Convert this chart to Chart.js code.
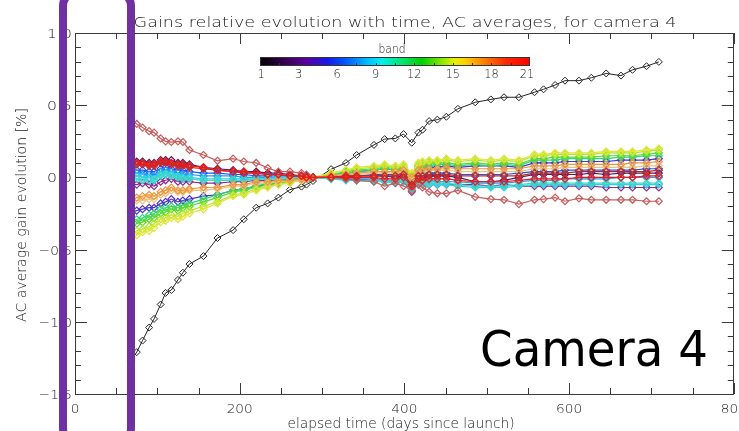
<!DOCTYPE html>
<html>
<head>
<meta charset="utf-8">
<script src="https://cdn.jsdelivr.net/npm/chart.js@4.4.0/dist/chart.umd.min.js"></script>
<style>
  html, body { margin: 0; padding: 0; background: #fff; }
</style>
</head>
<body>
<canvas id="gainChart" width="739" height="431"></canvas>
<script>
// elapsed time of each measurement (days since launch)
const days = [68, 75, 82, 90, 96, 104, 110, 117, 125, 131,
  139, 156, 173, 192, 205, 220, 234, 247, 261, 275,
  281, 289, 311, 329, 342, 363, 376, 389, 399, 409,
  417, 422, 430, 440, 451, 465, 486, 505, 521, 539,
  558, 569, 583, 595, 612, 627, 645, 663, 677, 694,
  709];

// AC average gain evolution [%] per band
const band1 = [-1.27, -1.21, -1.13, -1.04, -0.98, -0.88, -0.80, -0.78, -0.71, -0.66,
  -0.60, -0.545, -0.42, -0.365, -0.29, -0.21, -0.18, -0.14, -0.085, -0.064,
  -0.05, -0.025, 0.057, 0.10, 0.155, 0.225, 0.265, 0.27, 0.30, 0.24,
  0.31, 0.33, 0.39, 0.40, 0.42, 0.475, 0.52, 0.54, 0.555, 0.555,
  0.59, 0.61, 0.64, 0.67, 0.67, 0.69, 0.72, 0.705, 0.745, 0.77,
  0.80];
const band2 = [0.12, 0.11, 0.11, 0.10, 0.10, 0.12, 0.12, 0.12, 0.10, 0.10,
  0.09, 0.07, 0.06, 0.05, 0.04, 0.04, 0.03, 0.03, 0.02, 0.01,
  0.01, 0.00, 0.00, 0.00, 0.01, 0.01, 0.01, 0.00, 0.01, -0.06,
  0.00, 0.00, 0.01, 0.01, 0.01, 0.00, -0.03, -0.03, -0.02, 0.00,
  0.02, 0.02, 0.02, 0.02, 0.02, 0.03, 0.02, 0.03, 0.03, 0.03,
  0.03];
const band3 = [-0.05, -0.05, -0.04, -0.05, -0.06, -0.03, -0.02, -0.01, -0.03, -0.03,
  -0.03, -0.04, -0.04, -0.03, -0.03, -0.02, -0.02, -0.02, -0.01, -0.01,
  0.00, 0.00, 0.00, -0.01, -0.01, -0.02, -0.02, -0.03, -0.02, -0.10,
  -0.04, -0.05, -0.05, -0.05, -0.05, -0.05, -0.05, -0.06, -0.05, -0.06,
  -0.06, -0.06, -0.06, -0.06, -0.06, -0.06, -0.07, -0.07, -0.07, -0.07,
  -0.07];
const band4 = [-0.24, -0.23, -0.22, -0.21, -0.21, -0.18, -0.17, -0.15, -0.17, -0.16,
  -0.15, -0.13, -0.12, -0.09, -0.08, -0.06, -0.05, -0.04, -0.03, -0.02,
  -0.01, 0.00, 0.02, 0.03, 0.04, 0.05, 0.06, 0.05, 0.06, 0.00,
  0.06, 0.07, 0.07, 0.07, 0.08, 0.07, 0.08, 0.08, 0.08, 0.07,
  0.10, 0.10, 0.10, 0.11, 0.11, 0.11, 0.11, 0.12, 0.12, 0.12,
  0.13];
const band5 = [0.06, 0.05, 0.05, 0.04, 0.04, 0.06, 0.07, 0.06, 0.05, 0.05,
  0.04, 0.03, 0.03, 0.02, 0.02, 0.01, 0.01, 0.01, 0.01, 0.00,
  0.00, 0.00, 0.00, 0.01, 0.01, 0.02, 0.02, 0.02, 0.03, -0.03,
  0.02, 0.03, 0.03, 0.03, 0.03, 0.02, 0.02, 0.02, 0.02, 0.03,
  0.04, 0.04, 0.04, 0.05, 0.05, 0.05, 0.05, 0.05, 0.05, 0.06,
  0.06];
const band7 = [0.03, 0.03, 0.02, 0.02, 0.01, 0.04, 0.05, 0.04, 0.03, 0.02,
  0.02, 0.01, 0.01, 0.01, 0.00, 0.00, 0.00, 0.00, 0.00, 0.00,
  0.00, 0.00, -0.01, -0.01, -0.01, -0.01, -0.02, -0.02, -0.01, -0.07,
  -0.02, -0.02, -0.02, -0.03, -0.03, -0.03, -0.04, -0.04, -0.04, -0.03,
  -0.02, -0.02, -0.02, -0.01, -0.01, -0.01, -0.01, 0.00, 0.00, 0.00,
  0.00];
const band8 = [0.01, 0.01, 0.00, 0.00, -0.01, 0.02, 0.03, 0.02, 0.01, 0.00,
  0.00, -0.01, -0.01, -0.01, -0.01, -0.01, -0.01, 0.00, 0.00, 0.00,
  0.00, 0.00, -0.01, -0.02, -0.02, -0.03, -0.03, -0.04, -0.03, -0.08,
  -0.04, -0.05, -0.05, -0.05, -0.05, -0.06, -0.07, -0.07, -0.07, -0.06,
  -0.05, -0.05, -0.05, -0.05, -0.05, -0.05, -0.05, -0.05, -0.05, -0.05,
  -0.05];
const band9 = [-0.01, -0.01, -0.02, -0.02, -0.02, 0.01, 0.02, 0.01, 0.00, -0.01,
  -0.01, -0.02, -0.02, -0.02, -0.02, -0.01, -0.01, -0.01, -0.01, 0.00,
  0.00, 0.00, -0.01, -0.01, -0.02, -0.02, -0.02, -0.03, -0.02, -0.07,
  -0.03, -0.04, -0.04, -0.04, -0.04, -0.05, -0.06, -0.06, -0.06, -0.05,
  -0.04, -0.04, -0.04, -0.04, -0.04, -0.04, -0.04, -0.04, -0.04, -0.04,
  -0.04];
const band11 = [-0.30, -0.29, -0.28, -0.26, -0.25, -0.22, -0.21, -0.20, -0.21, -0.19,
  -0.18, -0.15, -0.12, -0.09, -0.08, -0.06, -0.04, -0.03, -0.02, -0.01,
  -0.01, 0.00, 0.02, 0.03, 0.04, 0.05, 0.06, 0.05, 0.06, 0.00,
  0.07, 0.08, 0.08, 0.09, 0.09, 0.08, 0.09, 0.08, 0.09, 0.08,
  0.12, 0.12, 0.12, 0.13, 0.13, 0.13, 0.13, 0.14, 0.14, 0.15,
  0.15];
const band13 = [-0.34, -0.32, -0.31, -0.29, -0.28, -0.25, -0.24, -0.22, -0.23, -0.21,
  -0.20, -0.17, -0.14, -0.10, -0.09, -0.07, -0.05, -0.04, -0.03, -0.02,
  -0.01, 0.00, 0.02, 0.04, 0.05, 0.06, 0.07, 0.06, 0.07, 0.01,
  0.08, 0.09, 0.10, 0.10, 0.10, 0.09, 0.10, 0.09, 0.10, 0.09,
  0.13, 0.13, 0.14, 0.14, 0.14, 0.14, 0.15, 0.15, 0.15, 0.16,
  0.17];
const band14 = [-0.39, -0.37, -0.36, -0.34, -0.32, -0.29, -0.28, -0.26, -0.27, -0.25,
  -0.23, -0.20, -0.17, -0.12, -0.11, -0.08, -0.06, -0.05, -0.03, -0.02,
  -0.01, 0.00, 0.03, 0.05, 0.06, 0.07, 0.08, 0.07, 0.08, 0.02,
  0.09, 0.10, 0.11, 0.11, 0.12, 0.11, 0.12, 0.11, 0.12, 0.11,
  0.15, 0.15, 0.16, 0.16, 0.16, 0.16, 0.17, 0.17, 0.17, 0.18,
  0.19];
const band16 = [-0.42, -0.40, -0.38, -0.37, -0.35, -0.31, -0.30, -0.28, -0.29, -0.27,
  -0.25, -0.22, -0.18, -0.13, -0.12, -0.09, -0.07, -0.05, -0.04, -0.02,
  -0.01, 0.00, 0.03, 0.05, 0.07, 0.08, 0.09, 0.08, 0.09, 0.03,
  0.10, 0.11, 0.12, 0.12, 0.13, 0.12, 0.13, 0.12, 0.13, 0.12,
  0.16, 0.16, 0.17, 0.17, 0.17, 0.17, 0.18, 0.18, 0.18, 0.19,
  0.20];
const band17 = [-0.17, -0.16, -0.16, -0.15, -0.15, -0.12, -0.11, -0.09, -0.10, -0.10,
  -0.09, -0.09, -0.08, -0.06, -0.06, -0.04, -0.04, -0.03, -0.02, -0.02,
  -0.01, 0.00, 0.01, 0.02, 0.02, 0.03, 0.03, 0.03, 0.04, -0.01,
  0.04, 0.04, 0.05, 0.05, 0.05, 0.04, 0.04, 0.04, 0.04, 0.04,
  0.06, 0.06, 0.06, 0.07, 0.07, 0.07, 0.07, 0.07, 0.07, 0.08,
  0.08];
const band18 = [-0.15, -0.14, -0.13, -0.12, -0.13, -0.10, -0.09, -0.07, -0.09, -0.09,
  -0.08, -0.07, -0.07, -0.05, -0.05, -0.03, -0.03, -0.02, -0.02, -0.01,
  -0.01, 0.00, 0.01, 0.02, 0.03, 0.04, 0.04, 0.04, 0.05, 0.00,
  0.05, 0.06, 0.06, 0.06, 0.07, 0.06, 0.06, 0.06, 0.06, 0.06,
  0.08, 0.08, 0.08, 0.09, 0.09, 0.09, 0.09, 0.09, 0.10, 0.10,
  0.11];
const band19 = [0.40, 0.37, 0.345, 0.32, 0.31, 0.27, 0.25, 0.245, 0.25, 0.245,
  0.19, 0.155, 0.115, 0.13, 0.11, 0.10, 0.065, 0.04, 0.04, 0.03,
  0.02, 0.00, 0.00, -0.01, -0.02, -0.03, -0.06, -0.04, -0.06, -0.09,
  -0.05, -0.07, -0.10, -0.11, -0.11, -0.09, -0.135, -0.15, -0.155, -0.185,
  -0.155, -0.15, -0.14, -0.165, -0.145, -0.155, -0.155, -0.155, -0.155, -0.165,
  -0.165];
const band20 = [0.10, 0.09, 0.09, 0.08, 0.08, 0.10, 0.10, 0.09, 0.08, 0.08,
  0.07, 0.06, 0.05, 0.04, 0.03, 0.03, 0.02, 0.02, 0.01, 0.01,
  0.00, 0.00, 0.00, 0.01, 0.01, 0.01, 0.01, 0.01, 0.02, -0.05,
  0.01, 0.01, 0.02, 0.02, 0.02, 0.01, 0.01, 0.01, 0.01, 0.01,
  0.03, 0.03, 0.03, 0.03, 0.04, 0.04, 0.04, 0.04, 0.04, 0.04,
  0.05];
const band21 = [0.11, 0.10, 0.10, 0.09, 0.09, 0.11, 0.11, 0.10, 0.09, 0.09,
  0.08, 0.07, 0.05, 0.04, 0.04, 0.03, 0.02, 0.02, 0.01, 0.01,
  0.00, 0.00, 0.00, 0.00, 0.00, 0.00, -0.01, -0.01, 0.00, -0.06,
  -0.01, -0.02, -0.01, -0.01, -0.01, -0.02, -0.03, -0.03, -0.03, -0.02,
  -0.01, -0.01, -0.01, -0.01, 0.00, 0.00, 0.00, 0.00, 0.00, 0.01,
  0.01];

// axis tick labels
const xTickValues = [0, 200, 400, 600, 800];
const yTickValues = [1.0, 0.5, 0.0, -0.5, -1.0, -1.5];
// colour bar labels
const barLabels = ['1', '3', '6', '9', '12', '15', '18', '21'];

const bands = [
  { band: 1, values: band1, color: '#262626' },
  { band: 2, values: band2, color: '#561c5c' },
  { band: 3, values: band3, color: '#8c2c92' },
  { band: 4, values: band4, color: '#4b34c6' },
  { band: 5, values: band5, color: '#2c50e4' },
  { band: 7, values: band7, color: '#209cf0' },
  { band: 8, values: band8, color: '#2ad2ea' },
  { band: 9, values: band9, color: '#3cd8c4' },
  { band: 11, values: band11, color: '#30d67c' },
  { band: 13, values: band13, color: '#5cd82c' },
  { band: 14, values: band14, color: '#aae82a' },
  { band: 16, values: band16, color: '#e4e438' },
  { band: 17, values: band17, color: '#ecc27c' },
  { band: 18, values: band18, color: '#ee963c' },
  { band: 19, values: band19, color: '#c65c5c' },
  { band: 20, values: band20, color: '#b82a2a' },
  { band: 21, values: band21, color: '#ee1a1a' }
];

const idlFont = '"DejaVu Sans ExtraLight", "DejaVu Sans"';
const textColor = '#1a1a1a';

function stretchText(ctx, text, x, y, width, align) {
  let w = ctx.measureText(text).width;
  ctx.save();
  ctx.translate(x, y);
  ctx.scale(width / w, 1);
  ctx.textAlign = align || 'center';
  ctx.fillText(text, 0, 0);
  ctx.restore();
}

const decorations = {
  id: 'decorations',
  beforeDraw(chart) {
    let ctx = chart.ctx;
    ctx.save();
    ctx.fillStyle = '#fff';
    ctx.fillRect(0, 0, chart.width, chart.height);
    ctx.restore();
  },
  afterDraw(chart) {
    let ctx = chart.ctx;
    let xs = chart.scales.x, ys = chart.scales.y;
    let a = chart.chartArea;
    ctx.save();

    // box + inward ticks on all four sides
    ctx.strokeStyle = '#3a3a3a';
    ctx.lineWidth = 1;
    ctx.beginPath();
    ctx.rect(Math.round(a.left) + 0.5, Math.round(a.top) + 0.5,
      Math.round(a.right - a.left) - 1, Math.round(a.bottom - a.top));
    for (let v = 0; v <= 800; v += 50) {
      let px = Math.round(xs.getPixelForValue(v)) + 0.5;
      let len = v % 200 === 0 ? 11 : 6;
      ctx.moveTo(px, a.bottom); ctx.lineTo(px, a.bottom - len);
      ctx.moveTo(px, a.top); ctx.lineTo(px, a.top + len);
    }
    for (let k = -15; k <= 10; k++) {
      let py = Math.round(ys.getPixelForValue(k / 10)) + 0.5;
      let len = k % 5 === 0 ? 12 : 6;
      ctx.moveTo(a.left, py); ctx.lineTo(a.left + len, py);
      ctx.moveTo(a.right, py); ctx.lineTo(a.right - len, py);
    }
    ctx.stroke();

    // tick labels
    ctx.fillStyle = textColor;
    ctx.font = '200 13px ' + idlFont;
    ctx.textBaseline = 'alphabetic';
    xTickValues.forEach(v => {
      let t = String(v);
      stretchText(ctx, t, xs.getPixelForValue(v), 413, t.length * 8.7);
    });
    yTickValues.forEach(v => {
      let t = v.toFixed(1).replace('-', '\u2212');
      stretchText(ctx, t, 72, ys.getPixelForValue(v) + 5, t.length * 8.3, 'right');
    });

    // titles
    ctx.font = '200 14px ' + idlFont;
    stretchText(ctx, 'Gains relative evolution with time, AC averages, for camera 4', 405, 27, 543);
    stretchText(ctx, 'elapsed time (days since launch)', 401, 428, 227);
    ctx.save();
    ctx.translate(22, 215);
    ctx.rotate(-Math.PI / 2);
    ctx.textBaseline = 'middle';
    stretchText(ctx, 'AC average gain evolution [%]', 0, 0, 214);
    ctx.restore();

    // colour bar
    let cbL = 260, cbR = 530, cbT = 57, cbB = 66;
    let g = ctx.createLinearGradient(cbL, 0, cbR, 0);
    g.addColorStop(0, '#000000');
    g.addColorStop(0.1, '#3c0058');
    g.addColorStop(0.17, '#5a00a0');
    g.addColorStop(0.25, '#1818e8');
    g.addColorStop(0.31, '#0050ff');
    g.addColorStop(0.4, '#00c0ff');
    g.addColorStop(0.45, '#00f0f0');
    g.addColorStop(0.52, '#00e878');
    g.addColorStop(0.6, '#00d000');
    g.addColorStop(0.67, '#80e800');
    g.addColorStop(0.72, '#e8f000');
    g.addColorStop(0.76, '#ffd000');
    g.addColorStop(0.83, '#ff8000');
    g.addColorStop(0.91, '#ff2800');
    g.addColorStop(1, '#ff0000');
    ctx.fillStyle = g;
    ctx.fillRect(cbL, cbT, cbR - cbL, cbB - cbT);
    ctx.strokeStyle = '#333';
    ctx.strokeRect(cbL + 0.5, cbT + 0.5, cbR - cbL - 1, cbB - cbT - 1);
    ctx.beginPath();
    for (let b = 1.5; b < 21; b += 1.5) {
      let px = Math.round(cbL + b / 21 * (cbR - cbL)) + 0.5;
      ctx.moveTo(px, cbB); ctx.lineTo(px, cbB - 3);
    }
    ctx.stroke();
    ctx.fillStyle = textColor;
    ctx.font = '200 12px ' + idlFont;
    stretchText(ctx, 'band', 392, 53, 27);
    barLabels.forEach((t, i) => {
      let b = i === 0 ? 0 : Number(t);
      let px = cbL + b / 21 * (cbR - cbL);
      if (i === 0) px += 1;
      if (i === barLabels.length - 1) px -= 3;
      stretchText(ctx, t, px, 78, t.length * 7.2);
    });

    // annotation
    ctx.fillStyle = '#000';
    ctx.font = '50px "DejaVu Sans"';
    stretchText(ctx, 'Camera 4', 480, 366, 228, 'left');

    // purple highlight box
    ctx.strokeStyle = '#7030a0';
    ctx.lineWidth = 8;
    ctx.beginPath();
    ctx.roundRect(63, -8, 68, 450, 14);
    ctx.stroke();

    ctx.restore();
  }
};

let ctx = document.getElementById('gainChart').getContext('2d');
let gainChart = new Chart(ctx, {
  type: 'line',
  data: {
    datasets: bands.map(s => ({
      label: 'band ' + s.band,
      data: days.map((d, i) => ({ x: d, y: s.values[i] })),
      borderColor: s.color,
      borderWidth: s.band === 1 ? 1 : 1.2,
      pointStyle: 'rectRot',
      pointRadius: 3.5,
      pointBorderColor: s.color,
      pointBackgroundColor: 'rgba(255,255,255,0)',
      pointBorderWidth: s.band === 1 ? 1 : 1.2,
      tension: 0,
      order: 22 - s.band
    }))
  },
  options: {
    responsive: false,
    animation: false,
    layout: { padding: { left: 0, right: 4, top: 33, bottom: 0 } },
    plugins: {
      legend: { display: false },
      tooltip: { enabled: false },
      title: { display: false }
    },
    scales: {
      x: {
        type: 'linear', min: 0, max: 800,
        grid: { display: false }, border: { display: false },
        ticks: { display: false },
        afterFit: s => { s.height = 37; }
      },
      y: {
        min: -1.5, max: 1.0,
        grid: { display: false }, border: { display: false },
        ticks: { display: false },
        afterFit: s => { s.width = 75; }
      }
    }
  },
  plugins: [decorations]
});
</script>
</body>
</html>
